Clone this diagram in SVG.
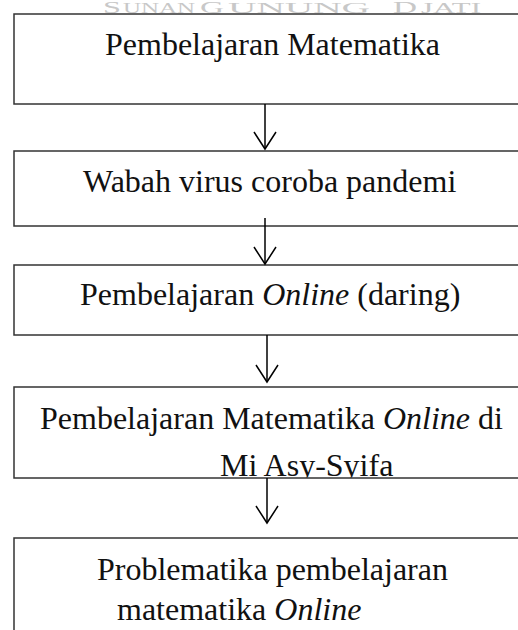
<svg xmlns="http://www.w3.org/2000/svg" width="518" height="630" viewBox="0 0 518 630">
<style>
.box{fill:#fff;stroke:#333;stroke-width:1.5}
.t{font-family:"Liberation Serif","Times New Roman",serif;font-size:32px;fill:#111}
.i{font-style:italic}
.wm{font-family:"Liberation Serif","Times New Roman",serif;fill:#c8c8c8}
.big{font-size:17px}
.sm{font-size:14px}
.c{stroke:#000;stroke-width:1.5;fill:none}
</style>
<defs>
<marker id="ah" markerUnits="userSpaceOnUse" viewBox="0 0 20 24" refX="18" refY="12" markerWidth="20" markerHeight="24" orient="auto">
<path d="M1,1 L18,12 L1,23" fill="none" stroke="#000" stroke-width="1.5"/>
</marker>
<clipPath id="clip4"><rect x="14" y="387" width="520" height="90.5"/></clipPath>
</defs>
<rect width="518" height="630" fill="#fff"/>
<g id="watermark" class="wm">
<text class="big" x="103" y="13" textLength="18" lengthAdjust="spacingAndGlyphs">S</text>
<text class="sm" x="123" y="13" textLength="72" lengthAdjust="spacingAndGlyphs">UNAN</text>
<text class="big" x="200" y="13" textLength="24" lengthAdjust="spacingAndGlyphs">G</text>
<text class="sm" x="228" y="13" textLength="142" lengthAdjust="spacingAndGlyphs">UNUNG</text>
<text class="big" x="393" y="13" textLength="24" lengthAdjust="spacingAndGlyphs">D</text>
<text class="sm" x="421" y="13" textLength="60" lengthAdjust="spacingAndGlyphs">JATI</text>
</g>
<g id="node1">
<rect class="box" x="14" y="14" width="520" height="90"/>
<text class="t" x="105" y="55">Pembelajaran Matematika</text>
</g>
<g id="node2">
<rect class="box" x="14" y="151" width="520" height="75"/>
<text class="t" x="83" y="192">Wabah virus coroba pandemi</text>
</g>
<g id="node3">
<rect class="box" x="14" y="265" width="520" height="70"/>
<text class="t" x="80" y="305">Pembelajaran <tspan class="i">Online</tspan> (daring)</text>
</g>
<g id="node4">
<rect class="box" x="14" y="387" width="520" height="91"/>
<text class="t" x="40" y="429">Pembelajaran Matematika <tspan class="i">Online</tspan> di</text>
<text class="t" x="220" y="476" clip-path="url(#clip4)">Mi Asy-Syifa</text>
</g>
<g id="node5">
<rect class="box" x="14" y="538" width="520" height="120"/>
<text class="t" x="97" y="580">Problematika pembelajaran</text>
<text class="t" x="117" y="620">matematika <tspan class="i">Online</tspan></text>
</g>
<g id="connectors">
<line class="c" x1="265" y1="104" x2="265" y2="149" marker-end="url(#ah)"/>
<line class="c" x1="265" y1="218" x2="265" y2="264" marker-end="url(#ah)"/>
<line class="c" x1="267" y1="335" x2="267" y2="382" marker-end="url(#ah)"/>
<line class="c" x1="267" y1="478" x2="267" y2="523" marker-end="url(#ah)"/>
</g>
</svg>
